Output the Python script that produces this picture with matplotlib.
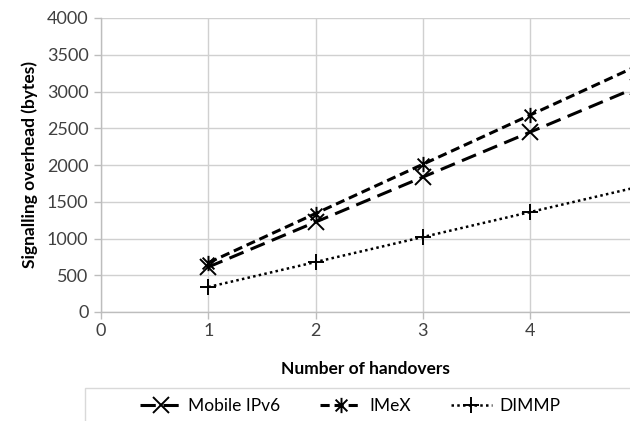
import matplotlib
matplotlib.use("Agg")
import matplotlib.pyplot as plt
from matplotlib.path import Path
from matplotlib.patches import Rectangle

plt.rcParams['font.family'] = ['Lato', 'DejaVu Sans']

handovers = [1, 2, 3, 4, 5]
mobile_ipv6 = [612, 1224, 1836, 2448, 3060]
imex = [670, 1340, 2010, 2680, 3350]
dimmp = [340, 680, 1020, 1360, 1700]

x_ticks = [0, 1, 2, 3, 4]
y_ticks = [0, 500, 1000, 1500, 2000, 2500, 3000, 3500, 4000]

# asterisk marker: a cross plus a vertical stroke
star = Path([(-1, -1), (1, 1), (-1, 1), (1, -1), (0, -1.3), (0, 1.3)],
            [Path.MOVETO, Path.LINETO, Path.MOVETO, Path.LINETO, Path.MOVETO, Path.LINETO])

fig = plt.figure(figsize=(6.3, 4.21), dpi=100)
ax = fig.add_axes([101 / 630, 109 / 421, 529 / 630, 294 / 421])

grid_c = '#d0d0d0'
ax.plot(handovers, mobile_ipv6, color='black', lw=2.2, linestyle=(0, (5, 2.5)),
        marker='x', markersize=11, markeredgewidth=1.4, label='Mobile IPv6')
ax.plot(handovers, imex, color='black', lw=2.2, linestyle=(0, (3, 1.6)),
        marker=star, markersize=11, markeredgewidth=1.4, label='IMeX')
ax.plot(handovers, dimmp, color='black', lw=1.8, linestyle=(0, (1, 1.3)),
        marker='+', markersize=12, markeredgewidth=1.4, label='DIMMP')

ax.set_xlim(0, 4.93)
ax.set_ylim(0, 4000)
ax.set_xticks(x_ticks)
ax.set_yticks(y_ticks)
ax.grid(True, color=grid_c, lw=1)
ax.set_axisbelow(True)
for s in ['top', 'right']:
    ax.spines[s].set_visible(False)
for s in ['left', 'bottom']:
    ax.spines[s].set_color('#bdbdbd')
    ax.spines[s].set_linewidth(1)
ax.tick_params(axis='both', colors='#bdbdbd', length=5, width=1,
               labelcolor='#404040', labelsize=13)
ax.tick_params(axis='x', pad=3)
ax.tick_params(axis='y', pad=4)

ax.set_xlabel('Number of handovers', fontsize=12.5, fontweight='bold', labelpad=16)
ax.set_ylabel('Signalling overhead (bytes)', fontsize=12.5, fontweight='bold', labelpad=6)

fig.patches.append(Rectangle((85 / 630, -0.05), 1.0, (421 - 388) / 421 + 0.05,
                             transform=fig.transFigure, fill=False,
                             edgecolor='#d9d9d9', lw=1))
fig.legend(loc='center', bbox_to_anchor=(350 / 630, 15 / 421), ncol=3,
           frameon=False, fontsize=12.5, handlelength=2.4, columnspacing=2.3,
           handletextpad=0.4)

fig.savefig('out.png', dpi=100)
